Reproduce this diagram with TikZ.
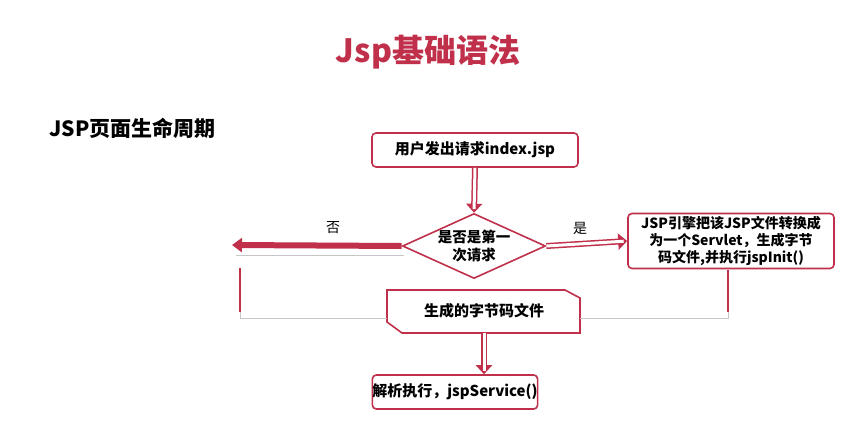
\documentclass[tikz,border=0pt]{standalone}
\usepackage{fontspec}
\setmainfont{Noto Sans CJK SC}
\newfontfamily\cjk{Noto Sans CJK SC}
\usetikzlibrary{shapes.geometric,arrows.meta}
\definecolor{jred}{HTML}{C0304A}
\begin{document}
\begin{tikzpicture}[x=1pt,y=-1pt,
  bf/.style={font=\cjk\bfseries\fontsize{15}{17}\selectfont},
  box/.style={bf,draw=jred,line width=1.6pt,rounded corners=4pt,fill=white,align=center,inner sep=0pt},
  hollow/.style={draw=jred,line width=6pt,-{Triangle[length=9pt,width=16pt]},postaction={draw=white,line width=3pt,shorten >=3.5pt,-}},
  lbl/.style={font=\cjk\fontsize{14}{16}\selectfont},
  gline/.style={draw=gray!45,line width=0.8pt},
  rline/.style={draw=jred,line width=1.8pt}]
\useasboundingbox (0,0) rectangle (863,431);
\fill[white] (0,0) rectangle (863,431);
\node[font=\cjk\bfseries\fontsize{32}{36}\selectfont,text=jred] (title) at (428,52) {Jsp基础语法};
\node[font=\cjk\bfseries\fontsize{21}{24}\selectfont,anchor=west] (sub) at (46,128) {JSP页面生命周期};
\node[box,minimum width=206pt,minimum height=34pt] (req) at (475,150) {用户发出请求index.jsp};
\node[diamond,draw=jred,line width=1.6pt,fill=white,aspect=2.2,minimum width=141pt,minimum height=64pt,inner sep=0pt,align=center,font=\cjk\bfseries\fontsize{14.5}{18}\selectfont] (dec) at (474,246) {是否是第一\\次请求};
\node[box,minimum width=206pt,minimum height=55pt,font=\cjk\bfseries\fontsize{14}{17}\selectfont] (jsp) at (731,241) {JSP引擎把该JSP文件转换成\\为一个Servlet，生成字节\\码文件,并执行jspInit()};
\node[box,minimum width=150pt,minimum height=34pt] (exe) at (455,392) {解析执行，jspService()};
\draw[jred,line width=1.6pt,fill=white] (387,290) -- (565,290) -- (580,298) -- (580,333) -- (402,333) -- (387,322) -- cycle;
\node[bf] (byte) at (484,311) {生成的字节码文件};
\coordinate (lt) at (232,245);
\coordinate (lc) at (240,318);
\coordinate (rc) at (728,318);
\draw[hollow] (req.south) -- (dec.north);
\draw[hollow] (dec.east) -- (jsp.west);
\draw[hollow] (484,333) -- (exe.north -| 484,0);
\draw[jred,line width=6pt,-{Triangle[length=10pt,width=14pt]}] (dec.west) -- (lt);
\draw[gline] (404,255) -- (236,255);
\draw[gline] (387,318) -- (lc) -- (240,268);
\draw[rline] (240,268) -- (240,312);
\draw[gline] (580,318) -- (rc) -- (728,270);
\draw[rline] (728,270) -- (728,312);
\node[lbl] (no) at (333,228) {否};
\node[lbl] (yes) at (580,228) {是};
\end{tikzpicture}
\end{document}
